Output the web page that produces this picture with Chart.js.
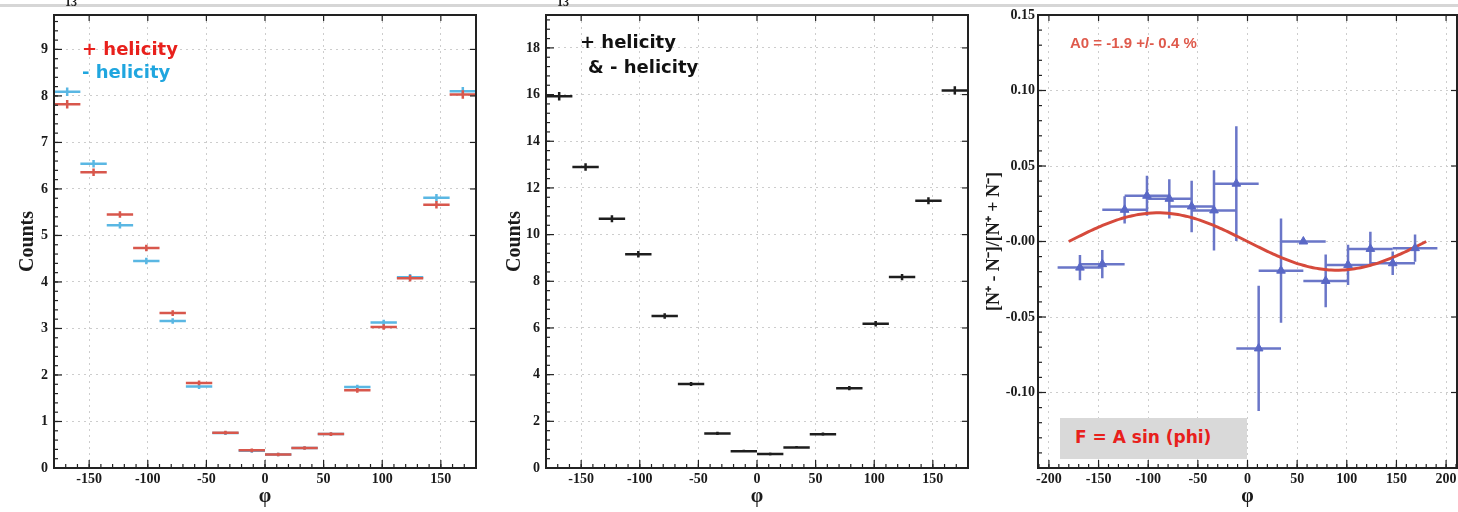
<!DOCTYPE html>
<html>
<head>
<meta charset="utf-8">
<script src="https://cdn.jsdelivr.net/npm/chart.js@4.4.0/dist/chart.umd.min.js"></script>
<style>
  html, body { margin: 0; padding: 0; background: #fff; }
  body { width: 1458px; height: 512px; overflow: hidden; position: relative; }
  canvas { position: absolute; top: 0; }
  .topbar { position: absolute; left: 0; top: 4px; width: 1458px; height: 3px; background: #d6d6d6; }
  .expo { position: absolute; top: -5px; font: bold 12px "Liberation Serif", serif; color: #222; }
  .note { position: absolute; white-space: nowrap; font-weight: bold; line-height: 1; }
  .hel { font-family: "DejaVu Sans", sans-serif; font-size: 18px; }
  .fbox { position: absolute; left: 1060px; top: 418px; width: 187px; height: 41px; background: #d9d9d9; }
  .fbox span { position: absolute; left: 15px; top: 11px; font: bold 17px "DejaVu Sans", sans-serif; color: #e8201c; line-height: 1; white-space: nowrap; }
</style>
</head>
<body>
<canvas id="helicitySplit" width="490" height="512" style="left:0"></canvas>
<canvas id="helicitySum" width="490" height="512" style="left:490px"></canvas>
<canvas id="asymmetry" width="490" height="512" style="left:980px"></canvas>

<div class="topbar"></div>
<div class="expo" style="left:65px">13</div>
<div class="expo" style="left:557px">13</div>

<div class="note hel" style="left:82px; top:40px; color:#e8201c">+ helicity</div>
<div class="note hel" style="left:82px; top:63px; color:#20a6df">- helicity</div>
<div class="note hel" style="left:580px; top:33px; color:#111">+ helicity</div>
<div class="note hel" style="left:588px; top:58px; color:#111">&amp; - helicity</div>
<div class="note" style="left:1070px; top:34px; font:bold 15px 'Liberation Sans', sans-serif; color:#df5a4c">A0 = -1.9 +/- 0.4 %</div>
<div class="fbox"><span>F = A sin (phi)</span></div>

<script>
// phi bins, 16 x 22.5 deg
const phiBins = [-168.75, -146.25, -123.75, -101.25, -78.75, -56.25, -33.75, -11.25,
                 11.25, 33.75, 56.25, 78.75, 101.25, 123.75, 146.25, 168.75];
const halfBin = 11.25;

// counts (x10^3) per helicity state
const plusCounts  = [7.82, 6.36, 5.45, 4.73, 3.33, 1.83, 0.76, 0.38, 0.29, 0.43, 0.73, 1.67, 3.03, 4.08, 5.66, 8.03];
const plusErr     = [0.09, 0.08, 0.07, 0.07, 0.06, 0.05, 0.04, 0.04, 0.04, 0.04, 0.04, 0.05, 0.06, 0.07, 0.08, 0.09];
const minusCounts = [8.09, 6.54, 5.22, 4.45, 3.16, 1.75, 0.75, 0.37, 0.29, 0.43, 0.73, 1.74, 3.13, 4.10, 5.81, 8.10];
const minusErr    = [0.09, 0.08, 0.07, 0.07, 0.06, 0.05, 0.04, 0.04, 0.04, 0.04, 0.04, 0.05, 0.06, 0.07, 0.08, 0.09];

// both helicities together
const sumCounts = [15.93, 12.90, 10.68, 9.16, 6.51, 3.60, 1.48, 0.72, 0.60, 0.88, 1.45, 3.42, 6.18, 8.18, 11.45, 16.18];
const sumErr    = [0.18, 0.16, 0.15, 0.14, 0.12, 0.09, 0.07, 0.06, 0.06, 0.06, 0.07, 0.09, 0.12, 0.13, 0.15, 0.18];

// beam-spin asymmetry (N+ - N-)/(N+ + N-)
const asymValues = [-0.0173, -0.0150, 0.0210, 0.0303, 0.0283, 0.0232, 0.0206, 0.0383,
                    -0.0708, -0.0193, 0.0000, -0.0261, -0.0155, -0.0049, -0.0144, -0.0044];
const asymErr    = [0.0083, 0.0094, 0.0090, 0.0133, 0.0130, 0.0170, 0.0266, 0.0380,
                    0.0415, 0.0345, 0.0010, 0.0175, 0.0133, 0.0113, 0.0078, 0.0090];
const asymHalfWidth = 22.5;

// fitted F = A sin(phi), A0 = -1.9 %
const fitAmplitude = -0.019;
const fitPhi = [];
for (let p = -180; p <= 180; p += 4) fitPhi.push(p);

const tickFont = { family: 'Liberation Serif', weight: 'bold', size: 14 };
const titleFont = { family: 'Liberation Serif', weight: 'bold', size: 20 };
const gridColor = '#cdcdcd';

function points(xs, ys) {
  return xs.map((x, i) => ({ x: x, y: ys[i] }));
}

// error bars (horizontal bin width + vertical error) drawn through the chart scales
const errorBars = {
  id: 'errorBars',
  beforeDatasetsDraw(chart) {
    const { ctx, chartArea: a, scales: { x, y } } = chart;
    ctx.save();
    ctx.beginPath();
    ctx.rect(a.left, a.top, a.width, a.height);
    ctx.clip();
    chart.data.datasets.forEach(ds => {
      if (!ds.errY) return;
      ctx.strokeStyle = ds.barColor;
      ctx.lineWidth = ds.barWidth;
      ds.data.forEach((p, i) => {
        const px = x.getPixelForValue(p.x);
        const py = y.getPixelForValue(p.y);
        ctx.beginPath();
        ctx.moveTo(x.getPixelForValue(p.x - ds.errX), py);
        ctx.lineTo(x.getPixelForValue(p.x + ds.errX), py);
        ctx.moveTo(px, y.getPixelForValue(p.y - ds.errY[i]));
        ctx.lineTo(px, y.getPixelForValue(p.y + ds.errY[i]));
        ctx.stroke();
      });
    });
    ctx.restore();
  }
};

// ROOT-like frame with inward major and minor ticks
const rootFrame = {
  id: 'rootFrame',
  afterDraw(chart, args, opts) {
    const { ctx, chartArea: a, scales: { x, y } } = chart;
    ctx.save();
    ctx.strokeStyle = '#222';
    ctx.lineWidth = 1.2;
    const line = (x1, y1, x2, y2) => { ctx.beginPath(); ctx.moveTo(x1, y1); ctx.lineTo(x2, y2); ctx.stroke(); };
    for (let i = Math.ceil(x.min / opts.xMinor); i * opts.xMinor <= x.max; i++) {
      const px = x.getPixelForValue(i * opts.xMinor);
      line(px, a.bottom, px, a.bottom - 4);
    }
    for (let i = Math.ceil(y.min / opts.yMinor - 1e-6); i * opts.yMinor <= y.max + 1e-9; i++) {
      const py = y.getPixelForValue(i * opts.yMinor);
      line(a.left, py, a.left + 4, py);
    }
    x.ticks.forEach(t => {
      const px = x.getPixelForValue(t.value);
      line(px, a.bottom, px, a.bottom - 8);
      line(px, a.top, px, a.top + 6);
    });
    y.ticks.forEach(t => {
      const py = y.getPixelForValue(t.value);
      line(a.left, py, a.left + 8, py);
      line(a.right, py, a.right - 6, py);
    });
    ctx.lineWidth = 2;
    ctx.strokeRect(a.left, a.top, a.width, a.height);
    ctx.restore();
  }
};

function axes(cfg) {
  return {
    x: {
      type: 'linear', min: cfg.xMin, max: cfg.xMax,
      afterFit: s => { s.height = 44; },
      ticks: { stepSize: 50, includeBounds: false, padding: 3, maxRotation: 0, font: tickFont, color: '#1a1a1a' },
      grid: { color: gridColor, drawTicks: false },
      border: { display: false, dash: [2, 4] },
      title: { display: true, text: 'φ', font: titleFont, color: '#1a1a1a', padding: { top: 0, bottom: 3 } }
    },
    y: {
      type: 'linear', min: cfg.yMin, max: cfg.yMax,
      afterFit: s => { s.width = cfg.yWidth; },
      ticks: { stepSize: cfg.yStep, includeBounds: false, padding: cfg.yPad, font: tickFont, color: '#1a1a1a',
               callback: cfg.yLabel || (v => v) },
      grid: { color: gridColor, drawTicks: false },
      border: { display: false, dash: [2, 4] },
      title: { display: true, text: cfg.yTitle, font: cfg.yTitleFont || titleFont, color: '#1a1a1a',
               padding: { top: cfg.yTitlePad, bottom: 0 } }
    }
  };
}

function baseOptions(padRight, scales, minor) {
  return {
    responsive: false,
    animation: false,
    layout: { padding: { top: 15, right: padRight, left: 0, bottom: 0 } },
    plugins: { legend: { display: false }, tooltip: { enabled: false }, rootFrame: minor },
    scales: scales
  };
}

// left: counts split by helicity
new Chart(document.getElementById('helicitySplit'), {
  type: 'scatter',
  data: {
    datasets: [
      { label: '- helicity', data: points(phiBins, minusCounts), errX: halfBin, errY: minusErr,
        barColor: '#5ab7e3', barWidth: 2.5, pointRadius: 0 },
      { label: '+ helicity', data: points(phiBins, plusCounts), errX: halfBin, errY: plusErr,
        barColor: '#d8574c', barWidth: 2.5, pointRadius: 0 }
    ]
  },
  options: baseOptions(14,
    axes({ xMin: -180, xMax: 180, yMin: 0, yMax: 9.74, yStep: 1, yWidth: 54, yPad: 6,
           yTitle: 'Counts', yTitlePad: 16 }),
    { xMinor: 10, yMinor: 0.2 }),
  plugins: [errorBars, rootFrame]
});

// middle: summed counts
new Chart(document.getElementById('helicitySum'), {
  type: 'scatter',
  data: {
    datasets: [
      { label: '+ helicity & - helicity', data: points(phiBins, sumCounts), errX: halfBin, errY: sumErr,
        barColor: '#1e1e1e', barWidth: 2.5, pointRadius: 0 }
    ]
  },
  options: baseOptions(12,
    axes({ xMin: -180, xMax: 180, yMin: 0, yMax: 19.41, yStep: 2, yWidth: 56, yPad: 6,
           yTitle: 'Counts', yTitlePad: 13 }),
    { xMinor: 10, yMinor: 0.4 }),
  plugins: [errorBars, rootFrame]
});

// right: asymmetry with sin(phi) fit
new Chart(document.getElementById('asymmetry'), {
  type: 'scatter',
  data: {
    datasets: [
      { label: 'asymmetry', data: points(phiBins, asymValues), errX: asymHalfWidth, errY: asymErr,
        barColor: '#6a76c8', barWidth: 2.5, pointStyle: 'triangle', pointRadius: 5,
        backgroundColor: '#5a68c6', borderColor: '#5a68c6', borderWidth: 1 },
      { type: 'line', label: 'fit', data: fitPhi.map(p => ({ x: p, y: fitAmplitude * Math.sin(p * Math.PI / 180) })),
        borderColor: '#d64a3c', borderWidth: 3, pointRadius: 0, fill: false, tension: 0.3 }
    ]
  },
  options: baseOptions(13,
    axes({ xMin: -211, xMax: 211, yMin: -0.15, yMax: 0.15, yStep: 0.05, yWidth: 58, yPad: 3,
           yTitle: '[N⁺ - N⁻]/[N⁺ + N⁻]', yTitlePad: 4,
           yTitleFont: { family: 'Liberation Serif', weight: 'bold', size: 18 },
           yLabel: v => v < -0.14 ? '' : (Math.abs(v) < 1e-9 ? '-0.00' : v.toFixed(2)) }),
    { xMinor: 10, yMinor: 0.01 }),
  plugins: [errorBars, rootFrame]
});
</script>
</body>
</html>
